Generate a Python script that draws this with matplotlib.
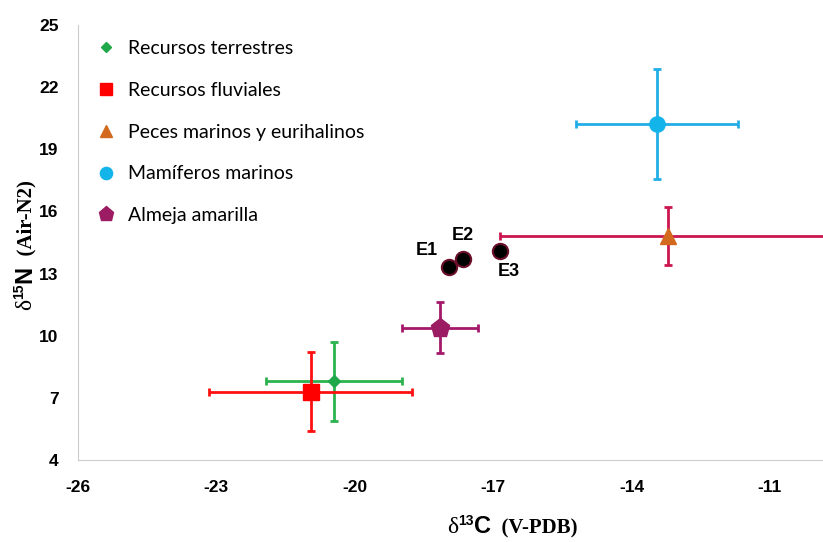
import numpy as np
import matplotlib
matplotlib.use("Agg")
import matplotlib.pyplot as plt

# grupos de recursos (media +/- desviacion)
grupos = ["Recursos terrestres", "Recursos fluviales", "Peces marinos y eurihalinos",
          "Mamíferos marinos", "Almeja amarilla"]
c13 = [-20.45, -20.95, -13.2, -13.45, -18.15]
n15 = [7.8, 7.3, 14.8, 20.2, 10.4]
c13_err = [1.47, 2.2, 3.65, 1.75, 0.83]
n15_err = [1.9, 1.9, 1.4, 2.65, 1.25]

# muestras humanas
muestras = ["E1", "E2", "E3"]
c13_m = [-17.95, -17.65, -16.85]
n15_m = [13.3, 13.7, 14.1]

marcas = ["D", "s", "^", "o", "p"]
tam = [6, 11, 11, 11, 14]
col_marca = ["#1fa84a", "#ff0000", "#d2691e", "#12b4ea", "#9c1c64"]
col_barra = ["#2cb24f", "#ff1010", "#cc1650", "#22aee6", "#a3186b"]

plt.rcParams['axes.unicode_minus'] = False

fig = plt.figure(figsize=(8.23, 5.42), dpi=100)
ax = fig.add_axes([0.0948, 0.151, 0.9052, 0.803])

for i in range(len(grupos)):
    ax.errorbar(c13[i], n15[i], xerr=c13_err[i], yerr=n15_err[i], fmt='none',
                ecolor=col_barra[i], elinewidth=2, capsize=3, capthick=2, zorder=2)
for i in range(len(grupos)):
    ax.plot(c13[i], n15[i], marker=marcas[i], ms=tam[i], color=col_marca[i],
            mec=col_marca[i], ls='none', label=grupos[i], zorder=3)

ax.plot(c13_m, n15_m, 'o', ms=11, color='black', mec='#6b0f2a', mew=1.5, zorder=4)
desp = [(-16, 12), (0, 17), (6, -15)]
for x, y, t, d in zip(c13_m, n15_m, muestras, desp):
    ax.annotate(t, (x, y), xytext=d, textcoords='offset points', ha='center',
                va='center', fontsize=13, fontweight='bold', family='Liberation Sans')

ax.set_xlim(-26, -9.85)
ax.set_ylim(4, 25)
ax.set_xticks([-26, -23, -20, -17, -14, -11])
ax.set_yticks([4, 7, 10, 13, 16, 19, 22, 25])
ax.tick_params(length=0, pad=14, labelsize=12.5)
for lab in ax.get_xticklabels() + ax.get_yticklabels():
    lab.set_fontweight('bold')
    lab.set_family(['Liberation Sans Narrow', 'DejaVu Sans Condensed', 'Liberation Sans'])
for s in ['top', 'right']:
    ax.spines[s].set_visible(False)
for s in ['left', 'bottom']:
    ax.spines[s].set_color('#cccccc')

# etiquetas de ejes armadas por partes: (texto, tamano, familia, peso, subida en px)
SERIF = 'Liberation Serif'
SANS = 'Liberation Sans'
partes_x = [('δ', 17, SERIF, 'normal', 0), ('13', 10, SANS, 'bold', 8),
            ('C', 17, SANS, 'bold', 0), ('  (V-PDB)', 15, SERIF, 'bold', 0)]
partes_y = [('δ', 17, SERIF, 'normal', 0), ('15', 10, SANS, 'bold', 8),
            ('N', 17, SANS, 'bold', 0), ('  (Air-N2)', 15, SERIF, 'bold', 0)]
W, H = 823, 542
r = fig.canvas.get_renderer()

def etiqueta(partes, x0, y0, rot):
    pos = x0 if rot == 0 else y0
    for txt, sz, fam, peso, sube in partes:
        if rot == 0:
            t = fig.text(pos / W, 1 - (y0 - sube) / H, txt, fontsize=sz, family=fam,
                         fontweight=peso, ha='left', va='baseline')
            pos = t.get_window_extent(r).x1
        else:
            t = fig.text((x0 - sube) / W, 1 - pos / H, txt, fontsize=sz, family=fam,
                         fontweight=peso, rotation=90, rotation_mode='anchor',
                         ha='left', va='baseline')
            pos = H - t.get_window_extent(r).y1

etiqueta(partes_x, 447, 533, 0)
etiqueta(partes_y, 31, 310, 90)

leg = ax.legend(loc='upper left', bbox_to_anchor=(-0.007, 1.005), frameon=False,
                labelspacing=1.27, handletextpad=0.35, handlelength=1.6, markerscale=0.8,
                prop={'family': ['Lato', 'DejaVu Sans'], 'size': 14})

fig.savefig("out.png", dpi=100)
